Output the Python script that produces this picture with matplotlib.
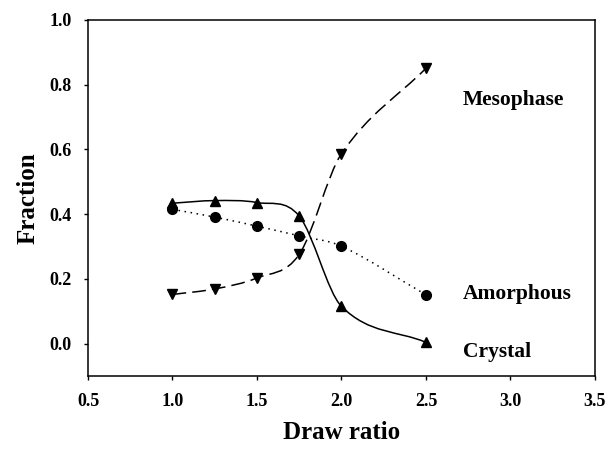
import numpy as np
import matplotlib.pyplot as plt
from matplotlib.path import Path
from matplotlib.patches import PathPatch

# Data
draw_ratio = [1.0, 1.25, 1.5, 1.75, 2.0, 2.5]
crystal = [0.434, 0.442, 0.436, 0.394, 0.115, 0.004]
amorphous = [0.415, 0.391, 0.363, 0.333, 0.301, 0.151]
mesophase = [0.152, 0.169, 0.203, 0.276, 0.587, 0.851]

labels = ["Mesophase", "Amorphous", "Crystal"]
label_y = [0.752, 0.152, -0.025]

plt.rcParams['font.family'] = ['Liberation Serif', 'DejaVu Serif']
plt.rcParams['font.weight'] = 'bold'


def smooth_path(x, y):
    # Catmull-Rom style cubic Bezier segments through the data points
    x = np.asarray(x, float)
    y = np.asarray(y, float)
    dy = np.empty_like(y)
    dy[1:-1] = (y[2:] - y[:-2]) / (x[2:] - x[:-2])
    dy[0] = (y[1] - y[0]) / (x[1] - x[0])
    dy[-1] = (y[-1] - y[-2]) / (x[-1] - x[-2])
    verts = [(x[0], y[0])]
    codes = [Path.MOVETO]
    for i in range(len(x) - 1):
        h = x[i + 1] - x[i]
        verts += [(x[i] + h / 3, y[i] + dy[i] * h / 3),
                  (x[i + 1] - h / 3, y[i + 1] - dy[i + 1] * h / 3),
                  (x[i + 1], y[i + 1])]
        codes += [Path.CURVE4] * 3
    return Path(verts, codes)


fig = plt.figure(figsize=(6.09, 4.5), dpi=100)
ax = fig.add_axes([0.1445, 0.1644, 0.8325, 0.7912])

ax.add_patch(PathPatch(smooth_path(draw_ratio, crystal), fill=False,
                       lw=1.1, color='black', linestyle='-'))
ax.add_patch(PathPatch(smooth_path(draw_ratio, amorphous), fill=False,
                       lw=1.1, color='black', linestyle=(0, (1, 3))))
ax.add_patch(PathPatch(smooth_path(draw_ratio, mesophase), fill=False,
                       lw=1.1, color='black', linestyle=(0, (9, 4))))

ax.plot(draw_ratio, crystal, '^', color='black', ms=7.5)
ax.plot(draw_ratio, amorphous, 'o', color='black', ms=7)
ax.plot(draw_ratio, mesophase, 'v', color='black', ms=7.5)

for txt, yy in zip(labels, label_y):
    ax.text(2.72, yy, txt, fontsize=15.5, fontweight='bold', va='center', ha='left')

ax.set_xlim(0.5, 3.5)
ax.set_ylim(-0.1, 1.0)
ax.set_xticks(np.arange(0.5, 3.51, 0.5))
ax.set_yticks(np.arange(0.0, 1.01, 0.2))
ax.xaxis.set_major_formatter(plt.FormatStrFormatter('%.1f'))
ax.yaxis.set_major_formatter(plt.FormatStrFormatter('%.1f'))
ax.tick_params(direction='out', length=3, width=1, labelsize=13, pad=9)
for lab in ax.get_xticklabels() + ax.get_yticklabels():
    lab.set_fontweight('bold')
for sp in ax.spines.values():
    sp.set_linewidth(1.1)

ax.set_xlabel("Draw ratio", fontsize=18, fontweight='bold', labelpad=8)
ax.set_ylabel("Fraction", fontsize=18, fontweight='bold', labelpad=7)

fig.savefig("out.png", dpi=100)
